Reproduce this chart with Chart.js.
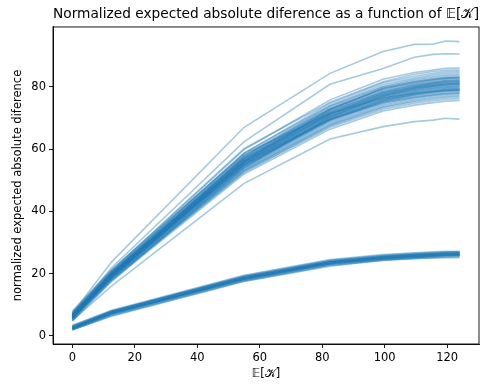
<!DOCTYPE html>
<html>
<head>
<meta charset="utf-8">
<script src="https://cdn.jsdelivr.net/npm/chart.js@4.4.1/dist/chart.umd.min.js"></script>
<style>
  html, body { margin: 0; padding: 0; background: #fff; }
  #wrap { width: 488px; height: 384px; }
</style>
</head>
<body>
<div id="wrap"><canvas id="c" width="488" height="384"></canvas></div>
<script>
// x positions (E[K])
const xValues = [0, 12.5, 55, 82.5, 99.5, 109.5, 115.5, 119.5, 124];

// upper group of curves
const upperLines = [
  [7.2, 23.7, 67.0, 84.3, 91.3, 93.6, 93.7, 94.7, 94.5],
  [6.8, 21.8, 62.4, 80.8, 85.9, 89.5, 90.4, 90.6, 90.5],
  [5.0, 16.0, 49.0, 63.2, 67.2, 68.8, 69.3, 69.9, 69.6],
  [6.6, 20.8, 59.8, 75.8, 82.4, 84.6, 85.4, 85.9, 86.0],
  [7.4, 21.0, 60.2, 75.0, 81.6, 84.0, 84.9, 85.3, 85.4],
  [6.2, 20.4, 58.6, 74.6, 81.3, 83.4, 84.3, 84.8, 85.0],
  [5.9, 20.2, 58.8, 74.0, 80.7, 82.8, 83.8, 84.3, 84.5],
  [7.0, 20.6, 58.0, 73.8, 80.2, 82.4, 83.3, 83.8, 84.0],
  [6.3, 20.0, 57.6, 73.4, 79.9, 82.0, 82.9, 83.4, 83.6],
  [5.6, 19.8, 57.8, 73.0, 79.5, 81.6, 82.5, 83.0, 83.2],
  [6.8, 20.1, 57.0, 72.8, 79.1, 81.1, 82.1, 82.6, 82.8],
  [6.0, 19.5, 56.8, 72.4, 78.7, 80.7, 81.7, 82.2, 82.4],
  [5.3, 19.3, 56.4, 72.0, 78.3, 80.3, 81.3, 81.8, 82.0],
  [7.6, 20.3, 56.9, 71.6, 78.0, 80.0, 81.0, 81.5, 81.7],
  [6.4, 19.6, 56.0, 71.4, 77.6, 79.7, 80.6, 81.1, 81.3],
  [5.8, 19.2, 55.7, 71.0, 77.3, 79.3, 80.2, 80.7, 80.9],
  [6.9, 19.7, 55.6, 70.7, 76.9, 78.9, 79.8, 80.3, 80.5],
  [5.5, 18.9, 55.2, 70.5, 76.6, 78.6, 79.5, 80.0, 80.2],
  [6.2, 19.1, 55.0, 70.1, 76.2, 78.2, 79.1, 79.6, 79.8],
  [7.1, 19.4, 54.8, 69.7, 75.8, 77.8, 78.7, 79.2, 79.4],
  [5.2, 18.6, 54.4, 69.4, 75.5, 77.5, 78.4, 78.8, 79.0],
  [6.5, 18.9, 54.3, 69.1, 75.2, 77.1, 78.0, 78.5, 78.7],
  [5.9, 18.5, 53.9, 68.8, 74.8, 76.7, 77.6, 78.1, 78.3],
  [6.7, 18.8, 53.7, 68.4, 74.4, 76.3, 77.2, 77.7, 77.9],
  [5.4, 18.2, 53.3, 68.0, 74.0, 75.9, 76.8, 77.3, 77.5],
  [6.1, 18.4, 53.1, 67.7, 73.6, 75.5, 76.4, 76.9, 77.1],
  [4.9, 17.9, 52.8, 67.4, 73.3, 75.2, 76.0, 76.5, 76.7],
  [6.3, 18.1, 52.5, 67.0, 72.8, 74.7, 75.5, 76.0, 76.2],
  [5.7, 17.6, 52.0, 66.4, 72.2, 74.1, 74.9, 75.4, 75.6],
  [4.7, 17.5, 54.0, 70.2, 77.0, 79.4, 80.3, 80.8, 81.0],
  [8.0, 21.2, 58.4, 71.5, 76.4, 77.9, 78.5, 78.9, 79.0],
  [6.0, 19.0, 56.0, 72.6, 79.6, 81.6, 82.4, 82.9, 83.0],
  [6.6, 19.9, 55.8, 69.5, 74.9, 76.6, 77.4, 77.8, 78.0],
  [6.4, 19.8, 57.2, 72.2, 78.5, 80.6, 81.5, 82.0, 82.2],
  [6.1, 19.4, 56.3, 71.2, 77.4, 79.5, 80.4, 80.9, 81.1],
  [6.9, 20.0, 56.6, 71.8, 78.1, 80.1, 81.1, 81.6, 81.8],
  [5.7, 19.0, 55.4, 70.4, 76.5, 78.5, 79.4, 79.9, 80.1],
  [6.5, 19.5, 55.9, 70.9, 77.1, 79.0, 80.0, 80.5, 80.7],
  [6.2, 19.3, 55.1, 69.9, 76.0, 78.0, 78.9, 79.4, 79.6],
  [5.8, 18.8, 54.6, 69.6, 75.7, 77.6, 78.5, 79.0, 79.2],
  [6.8, 19.6, 56.2, 71.3, 77.8, 79.8, 80.8, 81.3, 81.5],
  [6.0, 19.1, 57.4, 72.9, 79.3, 81.3, 82.2, 82.7, 82.9],
  [6.3, 19.2, 54.9, 69.3, 75.3, 77.3, 78.2, 78.6, 78.8]
];

// lower group of curves
const lowerLines = [
  [3.4, 8.2, 19.5, 24.5, 26.1, 26.7, 27.0, 27.2, 27.2],
  [3.2, 8.0, 19.3, 24.3, 25.9, 26.5, 26.8, 27.0, 27.0],
  [3.0, 7.9, 19.1, 24.1, 25.7, 26.3, 26.6, 26.8, 26.9],
  [2.9, 7.7, 19.0, 24.0, 25.6, 26.2, 26.5, 26.7, 26.8],
  [2.7, 7.6, 18.8, 23.8, 25.4, 26.0, 26.3, 26.5, 26.6],
  [2.6, 7.5, 18.7, 23.7, 25.3, 25.9, 26.2, 26.4, 26.5],
  [2.5, 7.4, 18.6, 23.6, 25.2, 25.8, 26.1, 26.3, 26.4],
  [2.4, 7.3, 18.4, 23.4, 25.0, 25.6, 25.9, 26.1, 26.2],
  [2.3, 7.2, 18.3, 23.3, 24.9, 25.5, 25.8, 26.0, 26.1],
  [2.2, 7.0, 18.1, 23.1, 24.7, 25.3, 25.6, 25.8, 25.9],
  [2.1, 6.9, 18.0, 23.0, 24.6, 25.2, 25.5, 25.7, 25.8],
  [2.0, 6.7, 17.8, 22.8, 24.4, 25.0, 25.3, 25.5, 25.6],
  [1.9, 6.5, 17.6, 22.6, 24.2, 24.8, 25.1, 25.3, 25.4],
  [2.0, 6.3, 17.5, 22.4, 24.3, 24.9, 25.0, 25.1, 25.1],
  [2.8, 7.8, 18.9, 23.6, 25.1, 25.6, 25.9, 26.0, 26.1],
  [2.4, 7.1, 18.5, 23.7, 25.4, 26.1, 26.4, 26.6, 26.7],
  [2.6, 7.3, 18.2, 23.2, 24.8, 25.4, 25.7, 25.9, 26.0],
  [3.1, 7.9, 18.9, 23.9, 25.5, 26.1, 26.4, 26.6, 26.6],
  [2.7, 7.5, 18.5, 23.5, 25.1, 25.7, 26.0, 26.2, 26.3],
  [2.5, 7.2, 18.2, 23.2, 24.8, 25.4, 25.7, 25.9, 26.0]
];

const xTicks = [0, 20, 40, 60, 80, 100, 120];
const yTicks = [0, 20, 40, 60, 80];

const titleText = 'Normalized expected absolute diference as a function of \u{1D53C}[\u{1D4A6}]';
const xLabel = '\u{1D53C}[\u{1D4A6}]';
const yLabel = 'normalized expected absolute diference';

const lineColor = 'rgba(31,119,180,0.4)';
const datasets = [];
[...upperLines, ...lowerLines].forEach(vals => {
  datasets.push({
    data: vals.map((v, i) => ({ x: xValues[i], y: v })),
    borderColor: lineColor,
    borderWidth: 1.6,
    pointRadius: 0,
    fill: false,
    tension: 0
  });
});

const frame = {
  id: 'frame',
  afterDraw(chart) {
    const a = chart.chartArea, ctx = chart.ctx;
    ctx.save();
    ctx.strokeStyle = '#000';
    ctx.lineWidth = 0.9;
    ctx.strokeRect(a.left, a.top, a.right - a.left, a.bottom - a.top);
    ctx.restore();
  }
};

const font = { family: 'DejaVu Sans', size: 11.5 };

new Chart(document.getElementById('c'), {
  type: 'line',
  data: { datasets },
  plugins: [frame],
  options: {
    responsive: false,
    animation: false,
    devicePixelRatio: 1,
    layout: { padding: { left: 0, right: 9, top: 0, bottom: 0 } },
    plugins: {
      legend: { display: false },
      tooltip: { enabled: false },
      title: {
        display: true,
        text: titleText,
        fullSize: false,
        color: '#000',
        font: { family: 'DejaVu Sans', size: 14.4, weight: 'normal', lineHeight: 1.2 },
        padding: { top: 5.4, bottom: 4.3 }
      }
    },
    scales: {
      x: {
        type: 'linear',
        min: -6.2,
        max: 130.2,
        afterFit(s) { s.height = 40; },
        afterBuildTicks(s) { s.ticks = xTicks.map(v => ({ value: v })); },
        ticks: { color: '#000', font, padding: 3, maxRotation: 0, includeBounds: false },
        grid: { drawOnChartArea: false, drawTicks: true, tickLength: 4, color: '#000', lineWidth: 0.9 },
        border: { display: true, color: '#000', width: 0.9 },
        title: { display: true, text: xLabel, color: '#000', font, padding: { top: 3, bottom: 3 } }
      },
      y: {
        type: 'linear',
        min: -2.6,
        max: 99.2,
        afterFit(s) { s.width = 53; },
        afterBuildTicks(s) { s.ticks = yTicks.map(v => ({ value: v })); },
        ticks: { color: '#000', font, padding: 3, includeBounds: false },
        grid: { drawOnChartArea: false, drawTicks: true, tickLength: 4, color: '#000', lineWidth: 0.9 },
        border: { display: true, color: '#000', width: 0.9 },
        title: { display: true, text: yLabel, color: '#000', font, padding: { top: 11, bottom: 0 } }
      }
    }
  }
});
</script>
</body>
</html>
